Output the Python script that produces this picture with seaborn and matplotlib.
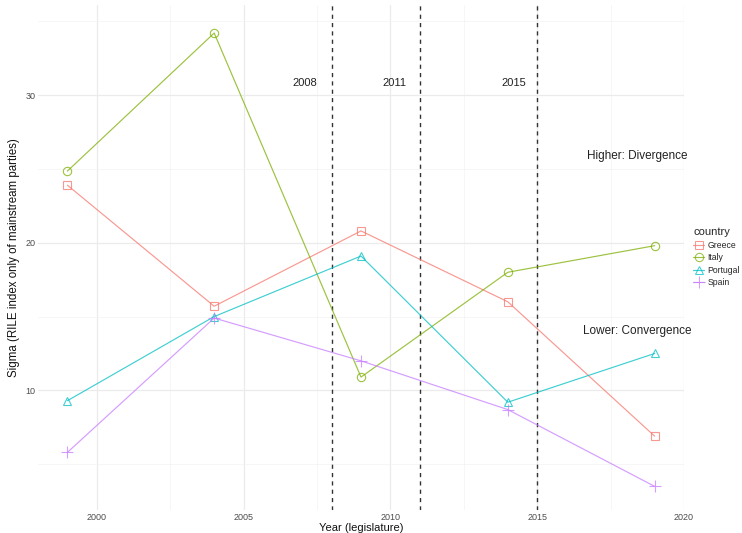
import matplotlib
matplotlib.use("Agg")
import matplotlib.pyplot as plt
from matplotlib.ticker import MultipleLocator
import seaborn as sns
import pandas as pd

years = [1999, 2004, 2009, 2014, 2019]
greece = [23.9, 15.7, 20.8, 16.0, 6.9]
italy = [24.85, 34.2, 10.9, 18.0, 19.8]
portugal = [9.3, 15.0, 19.1, 9.2, 12.5]
spain = [5.8, 14.9, 12.0, 8.7, 3.5]
countries = ["Greece", "Italy", "Portugal", "Spain"]
crisis_years = [2008, 2011, 2015]
crisis_labels = ["2008", "2011", "2015"]

df = pd.DataFrame({
    "year": years * 4,
    "sigma": greece + italy + portugal + spain,
    "country": sum([[c] * len(years) for c in countries], []),
})

sns.set_theme(style="white")
plt.rcParams["font.family"] = ["Liberation Sans", "DejaVu Sans"]

palette = {"Greece": "#F8766D", "Italy": "#7CAE00", "Portugal": "#00BFC4", "Spain": "#C77CFF"}
markers = {"Greece": "s", "Italy": "o", "Portugal": "^", "Spain": "P"}
final_markers = {"Greece": "s", "Italy": "o", "Portugal": "^", "Spain": "+"}

fig = plt.figure(figsize=(7.42, 5.33), dpi=100)
ax = fig.add_axes([38 / 742, 23 / 533, (684 - 38) / 742, (510 - 5) / 533])

sns.lineplot(data=df, x="year", y="sigma", hue="country", style="country",
             hue_order=countries, style_order=countries,
             palette=palette, markers=markers, dashes=False, ax=ax,
             linewidth=0.85, markersize=6, legend=True, alpha=0.75)

for ln, c in zip(ax.lines, countries):
    ln.set_marker(final_markers[c])
    ln.set_markerfacecolor("none")
    ln.set_markeredgecolor(palette[c])
    ln.set_markeredgewidth(0.8)
    if c == "Spain":
        ln.set_markersize(8)

for xv in crisis_years:
    ax.axvline(xv, color="#333333", linestyle=(0, (3, 3)), linewidth=1.0, zorder=1)

for xv, lab in zip([2007.1, 2010.15, 2014.2], crisis_labels):
    ax.text(xv, 30.8, lab, ha="center", va="center", fontsize=8, color="#222222")
ax.text(2018.4, 25.9, "Higher: Divergence", ha="center", va="center", fontsize=8.5, color="#222222")
ax.text(2018.4, 14.0, "Lower: Convergence", ha="center", va="center", fontsize=8.5, color="#222222")

ax.set_xlim(1998, 2020)
ax.set_ylim(1.9, 36.1)
ax.xaxis.set_major_locator(MultipleLocator(5))
ax.xaxis.set_minor_locator(MultipleLocator(2.5))
ax.yaxis.set_major_locator(MultipleLocator(10))
ax.yaxis.set_minor_locator(MultipleLocator(5))
ax.grid(which="major", color="#ebebeb", linewidth=0.9)
ax.grid(which="minor", color="#f3f3f3", linewidth=0.5)
ax.set_axisbelow(True)
for s in ax.spines.values():
    s.set_visible(False)
ax.tick_params(which="both", length=0, labelsize=6.5, labelcolor="#4d4d4d", pad=2)
ax.set_xlabel("Year (legislature)", fontsize=8, labelpad=1, color="#111111")
ax.set_ylabel("Sigma (RILE index only of mainstream parties)", fontsize=8.3, labelpad=4, color="#111111")

handles, labels = ax.get_legend_handles_labels()
ax.get_legend().remove()
for h, lab in zip(handles, labels):
    if lab in final_markers:
        h.set_marker(final_markers[lab])
        h.set_markerfacecolor("none")
        h.set_markeredgecolor(palette[lab])
        h.set_markersize(6 if lab != "Spain" else 8)
        h.set_alpha(0.75)
leg = fig.legend(handles, labels, title="country", loc="upper left",
                 bbox_to_anchor=(690 / 742, 1 - 224 / 533), frameon=False,
                 fontsize=6.2, title_fontsize=8, handlelength=1.2,
                 handletextpad=0.4, labelspacing=0.4, borderaxespad=0)
leg._legend_box.align = "left"

fig.savefig("out.png", dpi=100)
